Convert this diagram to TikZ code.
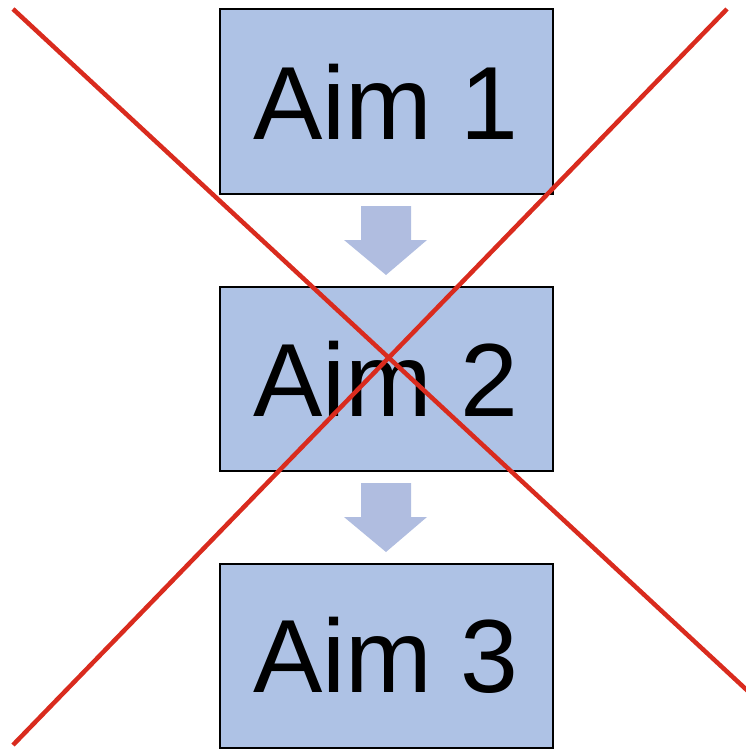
\documentclass[tikz,border=0pt]{standalone}
\usepackage{fontspec}
\setmainfont{Liberation Sans}
\definecolor{boxfill}{HTML}{AEC2E5}
\definecolor{arrfill}{HTML}{B0BDE0}
\definecolor{xred}{HTML}{D92B1E}
\begin{document}
\begin{tikzpicture}[x=1pt,y=-1pt,
  aimbox/.style={draw=black,line width=2pt,fill=boxfill,minimum width=333pt,minimum height=184pt,inner sep=0pt,
    font=\fontsize{104}{108}\selectfont},
  blockarrow/.style={fill=arrfill,draw=none},
  cross/.style={draw=xred,line width=4.5pt}]
\useasboundingbox (0,0) rectangle (745,749);
\node[aimbox] (a1) at (386,101.5) {Aim 1};
\node[aimbox] (a2) at (386,379) {Aim 2};
\node[aimbox] (a3) at (386,655.5) {Aim 3};
% block arrows
\path[blockarrow] (361,206) -- (411,206) -- (411,240) -- (427,240) -- (386,275) -- (344,240) -- (361,240) -- cycle;
\path[blockarrow] (361,483) -- (411,483) -- (411,517) -- (427,517) -- (386,552) -- (344,517) -- (361,517) -- cycle;
% cross
\coordinate (c1) at (13,9);
\coordinate (c2) at (750,693);
\coordinate (c3) at (727,9);
\coordinate (c4) at (13,745);
\draw[cross] (c1) -- (c2);
\draw[cross] (c3) -- (c4);
\end{tikzpicture}
\end{document}
